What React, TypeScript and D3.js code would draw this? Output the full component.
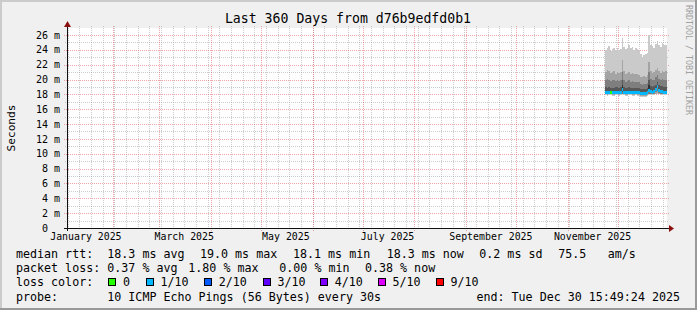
import React from 'react';
import * as d3 from 'd3';

const W = 697;
const H = 310;

const title = 'Last 360 Days from d76b9edfd0b1';
const yAxisTitle = 'Seconds';
const watermark = 'RRDTOOL / TOBI OETIKER';
const yTickValues = [0, 2, 4, 6, 8, 10, 12, 14, 16, 18, 20, 22, 24, 26];
const yMinorValues = [1, 3, 5, 7, 9, 11, 13, 15, 17, 19, 21, 23, 25];
const yMax = 26.94;
const monthLabels = ['January 2025', 'March 2025', 'May 2025', 'July 2025', 'September 2025', 'November 2025'];
const monthLabelMonths = [0, 2, 4, 6, 8, 10];

const endTime = Date.UTC(2025, 11, 30, 15, 49, 24);
const spanDays = 360;
const dataStart = Date.UTC(2025, 10, 23, 12, 0, 0);

// median rtt (ms) per day
const median = [18.3, 18.2, 18.3, 18.3, 18.2, 18.2, 18.3, 18.3, 18.2, 18.3, 18.6, 18.3, 18.2, 18.2, 18.3, 18.3, 18.2, 18.2, 18.3, 18.2, 18.2, 18.1, 18.1, 18.1, 18.1, 18.2, 18.5, 18.4, 18.3, 18.4, 18.6, 19.0, 18.5, 18.4, 18.4, 18.3, 18.3];
// sorted ping values (ms) per day, ping1 lowest .. ping10 highest
const ping1 = [17.9, 17.8, 17.9, 17.9, 17.8, 17.8, 17.9, 17.9, 17.8, 17.9, 17.9, 17.9, 17.8, 17.8, 17.9, 17.9, 17.8, 17.8, 17.9, 17.8, 17.8, 17.7, 17.7, 17.7, 17.7, 17.8, 17.9, 17.9, 17.9, 17.9, 18.0, 18.1, 18.0, 17.9, 17.9, 17.9, 17.9];
const ping2 = [18.0, 17.9, 18.0, 18.0, 17.9, 17.9, 18.0, 18.0, 17.9, 18.0, 18.0, 18.0, 17.9, 17.9, 18.0, 18.0, 17.9, 17.9, 18.0, 17.9, 17.9, 17.8, 17.8, 17.8, 17.8, 17.9, 18.0, 18.0, 18.0, 18.0, 18.1, 18.2, 18.1, 18.0, 18.0, 18.0, 18.0];
const ping3 = [18.1, 18.0, 18.1, 18.1, 18.0, 18.0, 18.1, 18.1, 18.0, 18.1, 18.1, 18.1, 18.0, 18.0, 18.1, 18.1, 18.0, 18.0, 18.1, 18.0, 18.0, 17.9, 17.9, 17.9, 17.9, 18.0, 18.1, 18.1, 18.1, 18.1, 18.3, 18.5, 18.2, 18.1, 18.1, 18.1, 18.1];
const ping4 = [18.2, 18.1, 18.2, 18.2, 18.1, 18.1, 18.2, 18.2, 18.1, 18.2, 18.3, 18.2, 18.1, 18.1, 18.2, 18.2, 18.1, 18.1, 18.2, 18.1, 18.1, 18.0, 18.0, 18.0, 18.0, 18.1, 18.3, 18.3, 18.2, 18.3, 18.5, 18.8, 18.4, 18.3, 18.3, 18.2, 18.2];
const ping5 = [18.3, 18.2, 18.3, 18.3, 18.2, 18.2, 18.3, 18.3, 18.2, 18.3, 18.5, 18.3, 18.2, 18.2, 18.3, 18.3, 18.2, 18.2, 18.3, 18.2, 18.2, 18.1, 18.1, 18.1, 18.1, 18.2, 18.4, 18.4, 18.3, 18.4, 18.6, 18.9, 18.5, 18.4, 18.4, 18.3, 18.3];
const ping6 = [18.4, 18.3, 18.4, 18.4, 18.3, 18.3, 18.4, 18.4, 18.3, 18.4, 19.3, 18.4, 18.3, 18.3, 18.4, 18.4, 18.3, 18.3, 18.4, 18.3, 18.3, 18.2, 18.2, 18.2, 18.2, 18.3, 19.2, 18.5, 18.4, 18.5, 18.7, 19.1, 18.6, 18.5, 18.5, 18.4, 18.4];
const ping7 = [19.0, 18.9, 19.0, 18.9, 18.9, 18.9, 19.0, 19.0, 18.9, 19.0, 20.0, 19.0, 18.9, 18.9, 19.0, 18.9, 18.9, 18.8, 18.9, 18.8, 18.8, 18.7, 18.7, 18.7, 18.7, 18.8, 19.9, 19.1, 19.0, 19.1, 19.3, 19.6, 19.2, 19.1, 19.1, 19.0, 19.0];
const ping8 = [19.9, 20.1, 19.9, 19.8, 19.9, 20.0, 19.8, 19.9, 19.8, 19.9, 21.0, 20.0, 19.7, 19.8, 19.9, 19.7, 19.8, 19.7, 19.7, 19.7, 19.6, 19.4, 19.3, 19.4, 19.4, 19.5, 21.0, 20.1, 19.9, 20.0, 20.3, 20.6, 20.1, 19.9, 20.1, 20.0, 20.0];
const ping9 = [21.0, 21.3, 21.1, 20.9, 21.0, 21.2, 20.8, 21.0, 20.9, 21.0, 22.6, 21.1, 20.8, 20.9, 21.0, 20.7, 20.9, 20.8, 20.7, 20.8, 20.6, 20.4, 20.3, 20.5, 20.4, 20.6, 22.4, 21.2, 20.9, 21.0, 21.3, 21.6, 21.1, 20.9, 21.2, 21.0, 21.1];
const ping10 = [24.0, 24.2, 24.5, 23.9, 24.1, 24.3, 24.0, 24.2, 24.0, 24.1, 25.6, 24.4, 24.1, 24.3, 24.6, 24.2, 24.4, 24.0, 24.2, 24.1, 23.8, 23.4, 23.0, 23.3, 23.5, 23.6, 26.0, 24.6, 24.5, 24.2, 24.8, 25.2, 24.7, 24.4, 24.9, 24.6, 24.7];
// packet loss (%) per day
const loss = [0.3, 0.5, 0.2, 0.0, 0.3, 0.4, 0.3, 0.5, 0.3, 0.4, 1.8, 0.3, 0.4, 0.3, 0.5, 0.3, 0.4, 0.3, 0.2, 0.4, 0.3, 0.5, 0.4, 0.3, 0.4, 0.3, 1.2, 0.4, 0.3, 0.4, 0.5, 0.6, 0.4, 0.3, 0.4, 0.3, 0.38];

const lossLabels = ['0', '1/10', '2/10', '3/10', '4/10', '5/10', '9/10'];
const lossColors = ['#26ff00', '#00b8ff', '#0059ff', '#5e00ff', '#7e00ff', '#dd00ff', '#ff0000'];
const lossUpper = [0, 10, 20, 30, 40, 50, 100];
const smokeColors = ['#cacaca', '#a4a4a4', '#7e7e7e', '#585858', '#323232'];

const medianStats = ['18.3 ms avg', '19.0 ms max', '18.1 ms min', '18.3 ms now', '0.2 ms sd', '75.5', 'am/s'];
const lossStats = ['0.37 % avg', '1.80 % max', '0.00 % min', '0.38 % now'];
const probeText = '10 ICMP Echo Pings (56 Bytes) every 30s';
const endText = 'end: Tue Dec 30 15:49:24 2025';

const MONO = '"DejaVu Sans Mono", "Liberation Mono", monospace';
const DAY = 86400000;

export default function App() {
  const L = 67, R = 667, T = 28, B = 228;
  const start = endTime - spanDays * DAY;
  const x = d3.scaleUtc().domain([start, endTime]).range([L, R]);
  const y = d3.scaleLinear().domain([0, yMax]).range([B, T]);
  const px = (v: number) => Math.round(v) + 0.5;

  const sundays = d3.utcSunday.range(new Date(start), new Date(endTime));
  const months = d3.utcMonth.range(new Date(start), new Date(endTime));

  const pings = [ping1, ping2, ping3, ping4, ping5, ping6, ping7, ping8, ping9, ping10];
  const days = median.map((_, i) => dataStart + i * DAY);

  const lossColor = (l: number) => {
    const idx = lossUpper.findIndex((u) => l <= u);
    return lossColors[idx < 0 ? lossColors.length - 1 : idx];
  };

  const row1 = [107.3, 200, 293, 386.7, 479.3, 558.3, 607.7];
  const row2 = [107.3, 188.3, 279.3, 365];
  const boxX = [108.3, 145.7, 204, 262.7, 320, 377.7, 435.7];
  const ly = [258, 272.2, 286.4, 300.6];

  return (
    <svg width={W} height={H} style={{ position: 'absolute', left: 0, top: 0 }} fontFamily={MONO}>
      <rect x={0} y={0} width={W} height={H} fill="#f0f0f0" />
      {/* 3D frame */}
      <rect x={0} y={0} width={W} height={2} fill="#cbcbcb" />
      <rect x={0} y={0} width={2} height={H} fill="#cbcbcb" />
      <rect x={0} y={H - 2} width={W} height={2} fill="#999999" />
      <rect x={W - 2} y={0} width={2} height={H} fill="#999999" />

      <rect x={L} y={T} width={R - L} height={B - T} fill="#ffffff" />

      {/* minor grid */}
      <g stroke="rgba(143,143,143,0.46)" strokeDasharray="1,1" shapeRendering="crispEdges">
        {yMinorValues.map((v) => (
          <line key={'hm' + v} x1={L - 2} x2={R + 2} y1={px(y(v))} y2={px(y(v))} />
        ))}
        {sundays.map((d) => (
          <line key={'vm' + +d} x1={px(x(d))} x2={px(x(d))} y1={T - 2} y2={B + 2} />
        ))}
      </g>
      {/* major grid */}
      <g stroke="rgba(222,80,80,0.5)" strokeDasharray="1,1" shapeRendering="crispEdges">
        {yTickValues.filter((v) => v > 0).map((v) => (
          <line key={'hM' + v} x1={L - 3} x2={R + 2} y1={px(y(v))} y2={px(y(v))} />
        ))}
        {months.map((d) => (
          <line key={'vM' + +d} x1={px(x(d))} x2={px(x(d))} y1={T - 2} y2={B + 3} />
        ))}
      </g>

      {/* smoke */}
      <g shapeRendering="crispEdges">
        {smokeColors.map((c, k) =>
          days.map((d, i) => {
            const lo = pings[k][i];
            const hi = pings[9 - k][i];
            const x0 = x(d);
            const x1 = x(d + DAY);
            return (
              <rect key={'s' + k + '_' + i} x={x0} y={y(hi)} width={x1 - x0} height={y(lo) - y(hi)} fill={c} />
            );
          })
        )}
        {days.map((d, i) => {
          const x0 = x(d);
          const x1 = x(d + DAY);
          return (
            <rect key={'m' + i} x={x0} y={y(median[i]) - 1.5} width={x1 - x0} height={3} fill={lossColor(loss[i])} />
          );
        })}
      </g>

      {/* axes */}
      <g stroke="#101010" shapeRendering="crispEdges">
        <line x1={L - 3} x2={R + 2} y1={B + 0.5} y2={B + 0.5} />
        <line x1={L + 0.5} x2={L + 0.5} y1={B + 3} y2={T - 3} />
      </g>
      <polygon points={`${R + 2},${B - 3} ${R + 7},${B + 0.5} ${R + 2},${B + 4}`} fill="#8b1010" />
      <polygon points={`${L - 3},${T - 1} ${L + 0.5},${T - 7} ${L + 4},${T - 1}`} fill="#8b1010" />

      {/* y tick labels */}
      <g fontSize={10} fill="#000">
        {yTickValues.map((v) =>
          v === 0 ? (
            <text key={'yl' + v} x={48} y={y(v) + 3.6} textAnchor="end">0</text>
          ) : (
            <text key={'yl' + v} x={60} y={y(v) + 3.6} textAnchor="end">{`${v} m`}</text>
          )
        )}
      </g>
      {/* x labels */}
      <g fontSize={9.9} fill="#000">
        {monthLabels.map((t, i) => (
          <text key={t} x={x(Date.UTC(2025, monthLabelMonths[i], 16))} y={240} textAnchor="middle">{t}</text>
        ))}
      </g>

      <text x={348} y={23} fontSize={13.2} textAnchor="middle" fill="#000">{title}</text>
      <text transform={`translate(14.5,128) rotate(-90)`} fontSize={11.2} textAnchor="middle" fill="#000">{yAxisTitle}</text>
      <text transform={`translate(685.5,60) rotate(90)`} fontSize={8.3} textAnchor="middle" fill="#a0a0a0">{watermark}</text>

      {/* legend */}
      <g fontSize={11.66} fill="#000">
        <text x={16} y={ly[0]}>median rtt:</text>
        {medianStats.map((t, i) => (
          <text key={'ms' + i} x={row1[i]} y={ly[0]}>{t}</text>
        ))}
        <text x={16} y={ly[1]}>packet loss:</text>
        {lossStats.map((t, i) => (
          <text key={'ls' + i} x={row2[i]} y={ly[1]}>{t}</text>
        ))}
        <text x={16} y={ly[2]}>loss color:</text>
        {lossLabels.map((t, i) => (
          <g key={'lc' + i}>
            <rect x={boxX[i] + 0.5} y={278.5} width={7} height={7} fill={lossColors[i]} stroke="#000" strokeWidth={1} shapeRendering="crispEdges" />
            <text x={boxX[i] + 14.7} y={ly[2]}>{t}</text>
          </g>
        ))}
        <text x={16} y={ly[3]}>probe:</text>
        <text x={107.3} y={ly[3]}>{probeText}</text>
        <text x={680} y={ly[3]} textAnchor="end">{endText}</text>
      </g>
    </svg>
  );
}
